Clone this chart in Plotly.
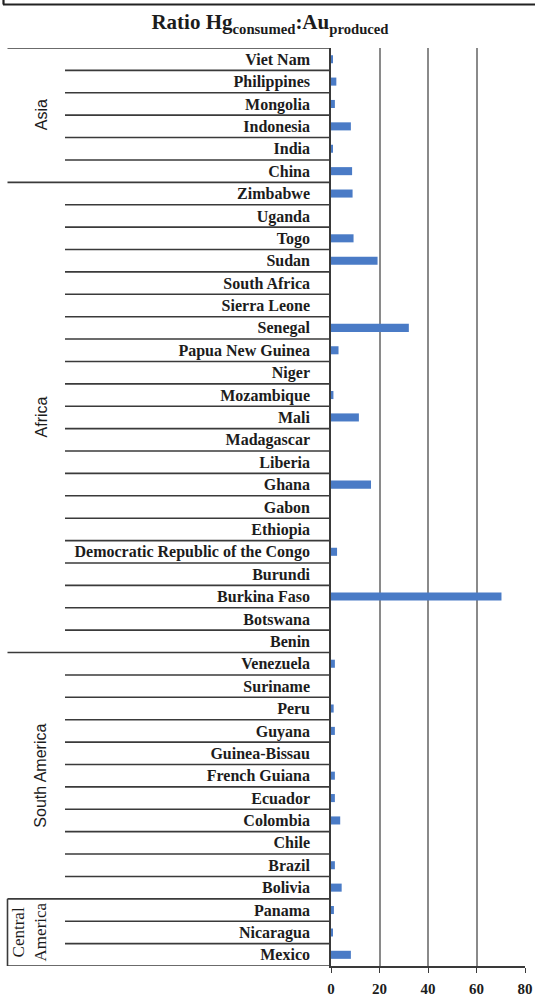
import plotly.graph_objects as go

# Countries (top to bottom) and their Hg consumed : Au produced ratio
asia = ["Viet Nam", "Philippines", "Mongolia", "Indonesia", "India", "China"]
asia_vals = [0.7, 2.2, 1.6, 8.2, 0.5, 8.7]

africa = ["Zimbabwe", "Uganda", "Togo", "Sudan", "South Africa", "Sierra Leone",
          "Senegal", "Papua New Guinea", "Niger", "Mozambique", "Mali", "Madagascar",
          "Liberia", "Ghana", "Gabon", "Ethiopia", "Democratic Republic of the Congo",
          "Burundi", "Burkina Faso", "Botswana", "Benin"]
africa_vals = [8.9, 0, 9.3, 19.2, 0, 0, 32.1, 3.1, 0, 1.0, 11.5, 0,
               0, 16.5, 0, 0, 2.5, 0, 70.3, 0, 0]

south_america = ["Venezuela", "Suriname", "Peru", "Guyana", "Guinea-Bissau",
                 "French Guiana", "Ecuador", "Colombia", "Chile", "Brazil", "Bolivia"]
south_america_vals = [1.6, 0, 1.1, 1.6, 0, 1.6, 1.6, 3.8, 0, 1.6, 4.4]

central_america = ["Panama", "Nicaragua", "Mexico"]
central_america_vals = [1.2, 0.6, 8.2]

groups = [("Asia", asia, asia_vals),
          ("Africa", africa, africa_vals),
          ("South America", south_america, south_america_vals),
          ("Central America", central_america, central_america_vals)]

x_ticks = [0, 20, 40, 60, 80]

countries = [c for _, names, _ in groups for c in names]
values = [v for _, _, vals in groups for v in vals]

# page geometry
W_PX, H_PX = 535, 997
M_L, M_R, M_T, M_B = 331, 10, 48, 31
PLOT_W = W_PX - M_L - M_R
PLOT_H = H_PX - M_T - M_B


def px_x(px):
    """Horizontal pixel position -> paper coordinate."""
    return (px - M_L) / PLOT_W


def px_y(py):
    """Vertical pixel position (from top) -> paper coordinate."""
    return 1 - (py - M_T) / PLOT_H


serif = "Liberation Serif"
ink = "#1c1c1c"
rule = "#3a3a3a"

fig = go.Figure(go.Bar(
    x=values, y=list(range(len(countries))), orientation="h",
    marker=dict(color="#4a7bc6", line=dict(width=0)),
    width=0.36,
))

shapes = []
annotations = []
n = len(countries)

# row separators: short ones inside a region, long ones between regions
start = 0
group_starts = set()
for _, names, _ in groups:
    group_starts.add(start)
    start += len(names)
for i in range(0, n + 1):
    y = i - 0.5
    long_line = i in group_starts or i == n
    shapes.append(dict(type="line", xref="paper", yref="y",
                       x0=px_x(7.5 if long_line else 65), x1=0, y0=y, y1=y,
                       line=dict(color=rule, width=1.6)))

# region labels, rotated
start = 0
for name, names, _ in groups:
    mid = start + (len(names) - 1) / 2
    if name == "Central America":
        for txt, xp in (("Central", 18), ("America", 40)):
            annotations.append(dict(text=txt, xref="paper", yref="y",
                                    x=px_x(xp), y=mid, showarrow=False, textangle=-90,
                                    font=dict(family=serif, size=17, color=ink),
                                    xanchor="center", yanchor="middle"))
        # left edge of the Central America block
        shapes.append(dict(type="line", xref="paper", yref="y",
                           x0=px_x(7.5), x1=px_x(7.5), y0=start - 0.5, y1=start + len(names) - 0.5,
                           line=dict(color=rule, width=1.6)))
    else:
        annotations.append(dict(text=name, xref="paper", yref="y",
                                x=px_x(41), y=mid, showarrow=False, textangle=-90,
                                font=dict(family="Liberation Sans", size=16, color=ink),
                                xanchor="center", yanchor="middle"))
    start += len(names)

# frame line across the top of the page
shapes.append(dict(type="line", xref="paper", yref="paper",
                   x0=px_x(3), x1=px_x(W_PX), y0=px_y(4.5), y1=px_y(4.5),
                   line=dict(color="#222", width=2.2)))
shapes.append(dict(type="line", xref="paper", yref="paper",
                   x0=px_x(3.5), x1=px_x(3.5), y0=px_y(4.5), y1=px_y(0),
                   line=dict(color="#222", width=2.2)))

fig.update_layout(
    width=W_PX, height=H_PX,
    margin=dict(l=M_L, r=M_R, t=M_T, b=M_B, autoexpand=False),
    paper_bgcolor="white", plot_bgcolor="white",
    showlegend=False,
    bargap=0.64,
    title=dict(
        text="Ratio Hg<sub>consumed</sub>:Au<sub>produced</sub>",
        x=270 / W_PX, xanchor="center", xref="container",
        y=1 - 22 / H_PX, yanchor="middle", yref="container",
        font=dict(family=serif, size=21, color=ink, weight="bold"),
        automargin=False,
    ),
    xaxis=dict(
        range=[0, 80], tickvals=x_ticks, ticktext=[str(t) for t in x_ticks],
        showgrid=True, gridcolor="#8a8a8a", gridwidth=1.6,
        showline=True, linecolor=rule, linewidth=1.6,
        ticks="outside", ticklen=5, tickcolor=rule, tickwidth=1.4,
        zeroline=False,
        tickfont=dict(family=serif, size=15, color=ink, weight="bold"),
        ticklabelstandoff=3,
        automargin=False,
        fixedrange=True,
    ),
    yaxis=dict(
        range=[n - 0.5, -0.5],
        tickvals=list(range(n)), ticktext=countries,
        showgrid=False, zeroline=False,
        showline=True, linecolor=rule, linewidth=1.6,
        ticks="", ticklabelstandoff=16,
        tickfont=dict(family=serif, size=16, color=ink, weight="bold"),
        automargin=False,
        fixedrange=True,
    ),
    shapes=shapes,
    annotations=annotations,
)

fig.write_html("out.html")
